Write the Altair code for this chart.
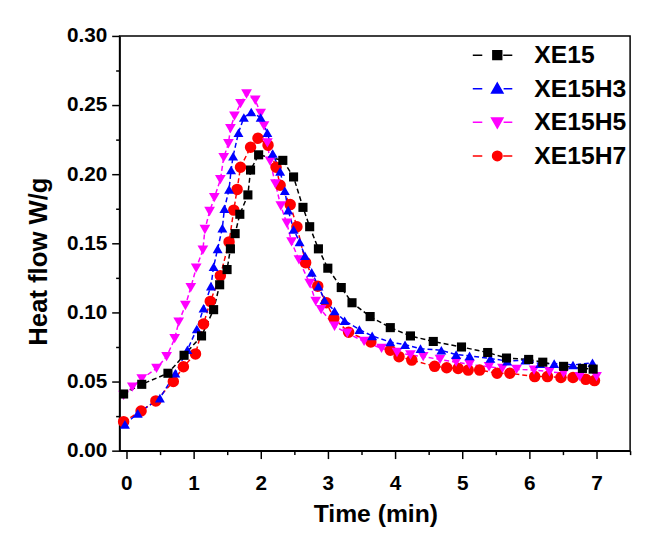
import altair as alt
import pandas as pd

series_names = ["XE15", "XE15H3", "XE15H5", "XE15H7"]

xe15_t = [-0.04, 0.23, 0.62, 0.86, 1.12, 1.30, 1.39, 1.50, 1.55, 1.62, 1.69, 1.81, 1.85, 1.97,
          2.33, 2.49, 2.63, 2.73, 2.86, 3.00, 3.20, 3.36, 3.63, 3.93, 4.23, 4.57, 4.99, 5.38,
          5.66, 5.99, 6.20, 6.51, 6.79, 6.95]
xe15_v = [0.041, 0.048, 0.056, 0.069, 0.083, 0.102, 0.120, 0.131, 0.146, 0.157, 0.171, 0.185, 0.203, 0.214,
          0.210, 0.198, 0.176, 0.162, 0.146, 0.132, 0.118, 0.107, 0.097, 0.089, 0.083, 0.079, 0.075, 0.071,
          0.067, 0.066, 0.064, 0.061, 0.0595, 0.059]

h3_t = [-0.02, 0.17, 0.50, 0.73, 0.91, 1.05, 1.15, 1.26, 1.30, 1.36, 1.43, 1.46, 1.53, 1.56, 1.59, 1.67,
        1.75, 1.86, 2.00, 2.10, 2.18, 2.29, 2.36, 2.41, 2.49, 2.58, 2.66, 2.76, 2.86, 2.95, 3.10, 3.25,
        3.47, 3.66, 3.93, 4.15, 4.38, 4.69, 4.91, 5.11, 5.42, 5.67, 5.94, 6.16, 6.37, 6.65, 6.94]
h3_v = [0.019, 0.027, 0.038, 0.056, 0.073, 0.088, 0.103, 0.119, 0.133, 0.146, 0.161, 0.175, 0.189, 0.203,
        0.213, 0.230, 0.241, 0.245, 0.241, 0.230, 0.215, 0.202, 0.188, 0.174, 0.160, 0.151, 0.141, 0.129,
        0.119, 0.109, 0.101, 0.094, 0.0876, 0.083, 0.0786, 0.0766, 0.0738, 0.0726, 0.0695, 0.0686, 0.0667,
        0.0648, 0.0655, 0.0629, 0.063, 0.062, 0.0636]

h5_t = [-0.04, 0.09, 0.23, 0.45, 0.60, 0.72, 0.78, 0.88, 0.96, 1.04, 1.14, 1.17, 1.24, 1.31, 1.40, 1.45,
        1.52, 1.55, 1.61, 1.70, 1.79, 1.92, 2.00, 2.05, 2.10, 2.14, 2.22, 2.30, 2.39, 2.46, 2.57, 2.73,
        2.82, 2.90, 3.10, 3.29, 3.54, 3.80, 4.03, 4.23, 4.42, 4.67, 4.91, 5.11, 5.40, 5.60, 5.81, 6.07,
        6.30, 6.51, 6.75, 7.00]
h5_v = [0.040, 0.046, 0.052, 0.0595, 0.068, 0.081, 0.093, 0.105, 0.118, 0.132, 0.145, 0.160, 0.173, 0.183,
        0.196, 0.212, 0.222, 0.233, 0.242, 0.251, 0.258, 0.2535, 0.244, 0.235, 0.2226, 0.2095, 0.193, 0.177,
        0.1645, 0.151, 0.138, 0.121, 0.108, 0.102, 0.090, 0.085, 0.079, 0.074, 0.071, 0.0692, 0.068, 0.066,
        0.064, 0.0624, 0.0607, 0.0595, 0.0588, 0.0583, 0.0571, 0.056, 0.0536, 0.0536]

h7_t = [-0.04, 0.22, 0.44, 0.70, 0.85, 1.03, 1.15, 1.25, 1.40, 1.53, 1.60, 1.65, 1.70, 1.85, 1.96, 2.11,
        2.23, 2.29, 2.44, 2.54, 2.67, 2.85, 2.98, 3.09, 3.31, 3.64, 3.93, 4.06, 4.25, 4.59, 4.77, 4.94,
        5.09, 5.26, 5.52, 5.71, 6.08, 6.27, 6.47, 6.65, 6.84, 6.97]
h7_v = [0.021, 0.0287, 0.036, 0.050, 0.0607, 0.070, 0.0916, 0.108, 0.1266, 0.151, 0.174, 0.189, 0.205,
        0.2195, 0.226, 0.221, 0.205, 0.192, 0.178, 0.162, 0.136, 0.119, 0.107, 0.0957, 0.0857, 0.0786,
        0.0726, 0.068, 0.0655, 0.061, 0.060, 0.0595, 0.0583, 0.0583, 0.056, 0.056, 0.0536, 0.0536, 0.0529,
        0.0529, 0.0516, 0.0507]

x_ticks = [0, 0.5, 1, 1.5, 2, 2.5, 3, 3.5, 4, 4.5, 5, 5.5, 6, 6.5, 7, 7.5]
y_ticks = [0, 0.025, 0.05, 0.075, 0.1, 0.125, 0.15, 0.175, 0.2, 0.225, 0.25, 0.275, 0.3]

rows = []
for name, ts, vs in [("XE15H7", h7_t, h7_v), ("XE15H5", h5_t, h5_v),
                     ("XE15H3", h3_t, h3_v), ("XE15", xe15_t, xe15_v)]:
    for t, v in zip(ts, vs):
        rows.append({"series": name, "time": t, "heat": v})
df = pd.DataFrame(rows)

colors = ["#000000", "#0000ff", "#ff00ff", "#ff0000"]
shapes = ["square", "triangle-up", "triangle-down", "circle"]
sizes = [85, 135, 135, 95]

FONT = "Liberation Sans, Arial, sans-serif"

# legend symbol paths: dash - marker - dash
p_sq = "M-3.1,0H-1.9M0.75,0H1.9M-0.56,-0.56H0.56V0.56H-0.56Z"
p_up = "M-3.1,0H-1.9M0.8,0H1.9M0,-0.72L0.72,0.55L-0.72,0.55Z"
p_dn = "M-3.1,0H-1.9M0.8,0H1.9M0,0.72L0.72,-0.55L-0.72,-0.55Z"
p_ci = "M-3.1,0H-1.9M0.75,0H1.9M-0.6,0A0.6,0.6,0,1,1,0.6,0A0.6,0.6,0,1,1,-0.6,0Z"

shape_sig = ("datum.value === 'XE15' ? '%s' : datum.value === 'XE15H3' ? '%s' : "
             "datum.value === 'XE15H5' ? '%s' : '%s'") % (p_sq, p_up, p_dn, p_ci)
col_sig = ("datum.value === 'XE15' ? '#000000' : datum.value === 'XE15H3' ? '#0000ff' : "
           "datum.value === 'XE15H5' ? '#ff00ff' : '#ff0000'")

y_major = "abs(round(datum.value*20) - datum.value*20) < 0.001"

x_axis = alt.Axis(
    values=x_ticks,
    labelExpr="datum.value % 1 === 0 ? format(datum.value, 'd') : ''",
    tickSize={"condition": {"test": "datum.value % 1 === 0", "value": 8}, "value": 4},
    title="Time (min)",
    titleFont=FONT, titleFontSize=25, titleFontWeight="bold", titleColor="black",
    titleBaseline="alphabetic", titleY=72, titleX=259,
    labelFont=FONT, labelFontSize=21, labelFontWeight="bold", labelColor="black", labelPadding=14,
    labelFlush=False, grid=False,
    domainColor="black", domainWidth=1.5, tickColor="black", tickWidth=1.5,
)
y_axis = alt.Axis(
    values=y_ticks,
    labelExpr=y_major + " ? format(datum.value, '.2f') : ''",
    tickSize={"condition": {"test": y_major, "value": 8}, "value": 4},
    title="Heat flow W/g",
    titleFont=FONT, titleFontSize=26, titleFontWeight="bold", titleColor="black",
    titleBaseline="middle", titleX=-82, titleY=228,
    labelFont=FONT, labelFontSize=21, labelFontWeight="bold", labelColor="black", labelPadding=5,
    grid=False,
    domainColor="black", domainWidth=1.5, tickColor="black", tickWidth=1.5,
)

x_enc = alt.X("time:Q", scale=alt.Scale(domain=[-0.1, 7.5], nice=False, zero=False), axis=x_axis)
y_enc = alt.Y("heat:Q", scale=alt.Scale(domain=[0, 0.30], nice=False, zero=False), axis=y_axis)

lines = alt.Chart(df).mark_line(strokeDash=[5, 3], strokeWidth=1.5).encode(
    x=x_enc, y=y_enc,
    color=alt.Color("series:N", scale=alt.Scale(domain=series_names, range=colors), legend=None),
)

points = alt.Chart(df).mark_point(filled=True, opacity=1).encode(
    x=x_enc, y=y_enc,
    color=alt.Color(
        "series:N",
        scale=alt.Scale(domain=series_names, range=colors),
        legend=alt.Legend(
            orient="none", legendX=370, legendY=7, title=None, padding=0,
            labelFont=FONT, labelFontSize=25, labelFontWeight="bold", labelColor="black",
            labelLimit=300, symbolSize=256, symbolOffset=0, labelOffset=25, rowPadding=8,
            symbolStrokeWidth=1.5, symbolOpacity=1,
            symbolType=alt.ExprRef(shape_sig),
            symbolStrokeColor=alt.ExprRef(col_sig),
            symbolFillColor=alt.ExprRef(col_sig),
        ),
    ),
    shape=alt.Shape("series:N", scale=alt.Scale(domain=series_names, range=shapes), legend=None),
    size=alt.Size("series:N", scale=alt.Scale(domain=series_names, range=sizes), legend=None),
)

chart = alt.layer(lines, points).resolve_scale(color="independent").properties(
    width=517, height=420,
    padding={"left": 113, "top": 25, "right": 8, "bottom": 74},
    autosize=alt.AutoSizeParams(type="none"),
    background="white",
).configure_view(stroke="black", strokeWidth=1.5)

chart.save("out.html", embed_options={"renderer": "svg", "actions": False})
